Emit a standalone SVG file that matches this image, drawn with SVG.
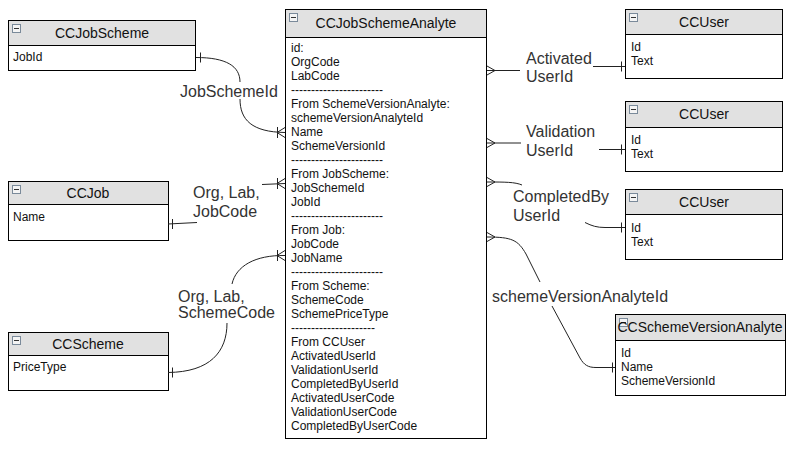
<svg xmlns="http://www.w3.org/2000/svg" width="802" height="458" viewBox="0 0 802 458">
<defs>
<style>
.box{fill:#fff;stroke:#000;stroke-width:1}
.hdr{fill:#e1e1e1;stroke:#000;stroke-width:1}
.ttl{font-family:"Liberation Sans",Arial,sans-serif;font-size:14px;fill:#111;text-anchor:middle}
.row{font-family:"Liberation Sans",Arial,sans-serif;font-size:12px;fill:#111}
.lbl{font-family:"Liberation Sans",Arial,sans-serif;font-size:16px;fill:#333}
.ico{fill:#f4f4f4;stroke:#7a8a9a;stroke-width:1}
.icm{stroke:#333;stroke-width:1}
.cn{fill:none;stroke:#222;stroke-width:1}
</style>
<g id="icon"><rect class="ico" x="0.5" y="0.5" width="8" height="8"/><line class="icm" x1="2" y1="4.5" x2="7" y2="4.5"/></g>
</defs>
<rect width="802" height="458" fill="#fff"/>

<g id="CCJobScheme">
<rect class="box" x="8.5" y="20.5" width="187" height="50"/>
<rect class="hdr" x="8.5" y="20.5" width="187" height="25"/>
<use href="#icon" x="12" y="24"/>
<text class="ttl" x="102" y="38">CCJobScheme</text>
<text class="row" x="13" y="61">JobId</text>
</g>

<g id="CCJob">
<rect class="box" x="8.5" y="181.5" width="160" height="59"/>
<rect class="hdr" x="8.5" y="181.5" width="160" height="23"/>
<use href="#icon" x="12" y="185"/>
<text class="ttl" x="88" y="197.5">CCJob</text>
<text class="row" x="13" y="221">Name</text>
</g>

<g id="CCScheme">
<rect class="box" x="8.5" y="332.5" width="160" height="58"/>
<rect class="hdr" x="8.5" y="332.5" width="160" height="23"/>
<use href="#icon" x="12" y="336"/>
<text class="ttl" x="88" y="348.5">CCScheme</text>
<text class="row" x="13" y="371">PriceType</text>
</g>

<g id="CCJobSchemeAnalyte">
<rect class="box" x="285.5" y="9.5" width="201" height="429"/>
<rect class="hdr" x="285.5" y="9.5" width="201" height="28"/>
<use href="#icon" x="289" y="13"/>
<text class="ttl" x="386" y="28">CCJobSchemeAnalyte</text>
<text class="row" x="291" y="51.5">id:</text>
<text class="row" x="291" y="65.5">OrgCode</text>
<text class="row" x="291" y="79.5">LabCode</text>
<text class="row" x="291" y="93.5">-----------------------</text>
<text class="row" x="291" y="107.5">From SchemeVersionAnalyte:</text>
<text class="row" x="291" y="121.5">schemeVersionAnalyteId</text>
<text class="row" x="291" y="135.5">Name</text>
<text class="row" x="291" y="149.5">SchemeVersionId</text>
<text class="row" x="291" y="163.5">-----------------------</text>
<text class="row" x="291" y="177.5">From JobScheme:</text>
<text class="row" x="291" y="191.5">JobSchemeId</text>
<text class="row" x="291" y="205.5">JobId</text>
<text class="row" x="291" y="219.5">-----------------------</text>
<text class="row" x="291" y="233.5">From Job:</text>
<text class="row" x="291" y="247.5">JobCode</text>
<text class="row" x="291" y="261.5">JobName</text>
<text class="row" x="291" y="275.5">-----------------------</text>
<text class="row" x="291" y="289.5">From Scheme:</text>
<text class="row" x="291" y="303.5">SchemeCode</text>
<text class="row" x="291" y="317.5">SchemePriceType</text>
<text class="row" x="291" y="331.5">---------------------</text>
<text class="row" x="291" y="345.5">From CCUser</text>
<text class="row" x="291" y="359.5">ActivatedUserId</text>
<text class="row" x="291" y="373.5">ValidationUserId</text>
<text class="row" x="291" y="387.5">CompletedByUserId</text>
<text class="row" x="291" y="401.5">ActivatedUserCode</text>
<text class="row" x="291" y="415.5">ValidationUserCode</text>
<text class="row" x="291" y="429.5">CompletedByUserCode</text>
</g>

<g id="CCUser1">
<rect class="box" x="625.5" y="9.5" width="157" height="69"/>
<rect class="hdr" x="625.5" y="9.5" width="157" height="25"/>
<use href="#icon" x="629" y="13"/>
<text class="ttl" x="704" y="26.5">CCUser</text>
<text class="row" x="631" y="51">Id</text>
<text class="row" x="631" y="65">Text</text>
</g>

<g id="CCUser2">
<rect class="box" x="625.5" y="101.5" width="157" height="70"/>
<rect class="hdr" x="625.5" y="101.5" width="157" height="26"/>
<use href="#icon" x="629" y="105"/>
<text class="ttl" x="704" y="119">CCUser</text>
<text class="row" x="631" y="144">Id</text>
<text class="row" x="631" y="158">Text</text>
</g>

<g id="CCUser3">
<rect class="box" x="625.5" y="189.5" width="157" height="70"/>
<rect class="hdr" x="625.5" y="189.5" width="157" height="25"/>
<use href="#icon" x="629" y="193"/>
<text class="ttl" x="704" y="206.5">CCUser</text>
<text class="row" x="631" y="232">Id</text>
<text class="row" x="631" y="246">Text</text>
</g>

<g id="CCSchemeVersionAnalyte">
<rect class="box" x="615.5" y="314.5" width="170" height="81"/>
<rect class="hdr" x="615.5" y="314.5" width="170" height="26"/>
<use href="#icon" x="619" y="318"/>
<text class="ttl" x="700" y="332">CCSchemeVersionAnalyte</text>
<text class="row" x="621" y="357">Id</text>
<text class="row" x="621" y="371">Name</text>
<text class="row" x="621" y="385">SchemeVersionId</text>
</g>

<g id="connectors">
<!-- JobSchemeId -->
<path class="cn" d="M196,57.5 C226,57.5 240,66 240,82"/>
<path class="cn" d="M200.5,52.5 V62.5"/>
<path class="cn" d="M240,99 C240,120 252,132 285,132.5"/>
<path class="cn" d="M277.5,127 V138 M277,132.5 L285,127.5 M277,132.5 L285,137.5"/>
<text class="lbl" x="180" y="97">JobSchemeId</text>

<!-- Org, Lab, JobCode -->
<path class="cn" d="M262,184.5 L285,183.5"/>
<path class="cn" d="M277.5,178 V189 M277,183.5 L285,178.5 M277,183.5 L285,188.5"/>
<path class="cn" d="M197,222.5 L168,224"/>
<path class="cn" d="M172.5,219 V229"/>
<text class="lbl" x="193" y="198">Org, Lab,</text>
<text class="lbl" x="193" y="217">JobCode</text>

<!-- Org, Lab, SchemeCode -->
<path class="cn" d="M285,255.5 C255,255 236,266 232,284"/>
<path class="cn" d="M277.5,250 V261 M277,255.5 L285,250.5 M277,255.5 L285,260.5"/>
<path class="cn" d="M227,323 C227,352 210,372 168,372.5"/>
<path class="cn" d="M172.5,367.5 V377.5"/>
<text class="lbl" x="178" y="302">Org, Lab,</text>
<text class="lbl" x="178" y="318">SchemeCode</text>

<!-- Activated UserId -->
<path class="cn" d="M487,66 L495,70.5 L487,75 M487,70.5 H520"/>
<path class="cn" d="M593,66.5 H625"/>
<path class="cn" d="M621.5,61.5 V71.5"/>
<text class="lbl" x="526" y="64">Activated</text>
<text class="lbl" x="526" y="82">UserId</text>

<!-- Validation UserId -->
<path class="cn" d="M487,138.5 L495,143 L487,147.5 M487,143 H521"/>
<path class="cn" d="M599,149.5 H625"/>
<path class="cn" d="M621.5,144.5 V154.5"/>
<text class="lbl" x="526" y="137">Validation</text>
<text class="lbl" x="526" y="156">UserId</text>

<!-- CompletedBy UserId -->
<path class="cn" d="M487,177.5 L495,182 L487,186.5 M487,182 C505,182 515,182 522,185"/>
<path class="cn" d="M585,222.5 C592,226 597,227.5 605,227.5 H625"/>
<path class="cn" d="M621.5,222.5 V232.5"/>
<text class="lbl" x="513" y="202">CompletedBy</text>
<text class="lbl" x="513" y="221">UserId</text>

<!-- schemeVersionAnalyteId -->
<path class="cn" d="M487,232.5 L495,237 L487,241.5 M487,237 C512,237 518,240 526,254 L540,282"/>
<path class="cn" d="M552,306 L580,358 C584,365 588,367.5 596,367.5 H615"/>
<path class="cn" d="M612.5,362.5 V372.5"/>
<text class="lbl" x="492" y="302">schemeVersionAnalyteId</text>
</g>
</svg>
